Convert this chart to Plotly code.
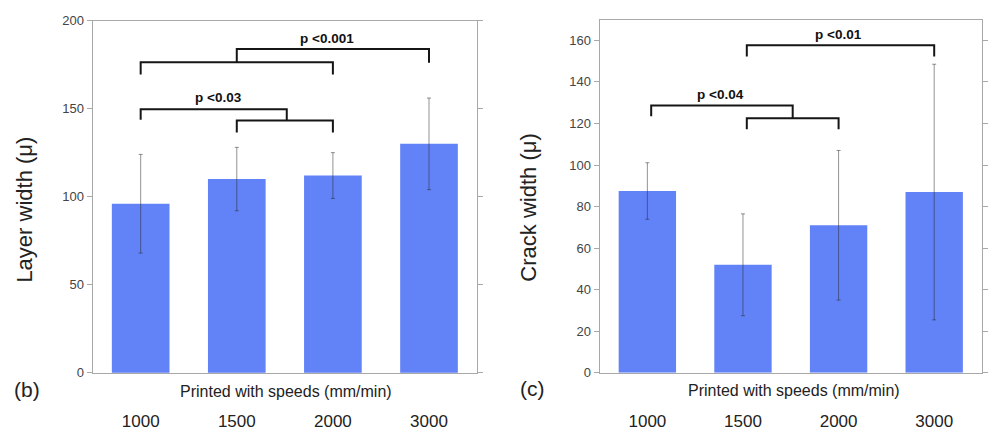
import plotly.graph_objects as go

# Print speeds (mm/min) shared by both panels
speeds = ["1000", "1500", "2000", "3000"]

# Panel (b): layer width, mean and error
layer_mean = [96, 110, 112, 130]
layer_err = [28, 18, 13, 26]

# Panel (c): crack width, mean and error
crack_mean = [87.5, 52, 71, 87]
crack_err = [13.6, 24.5, 36, 61.5]

# Significance brackets: (x_start, x_end, bar height, left leg end, right leg end)
layer_brackets = [
    (0, 2, 176.3, 169.3, 169.3),
    (1, 3, 183.9, 176.3, 176.0),
    (0, 1.52, 149.6, 143.7, 143.2),
    (1, 2, 143.2, 136.4, 136.4),
]
crack_brackets = [
    (1.04, 3, 157.6, 152.2, 152.2),
    (0.04, 1.52, 128.6, 123.5, 122.5),
    (1.04, 2, 122.5, 117.2, 117.2),
]
# p-value labels: (text, x, y)
layer_pvals = [("p <0.001", 1.94, 190), ("p <0.03", 0.81, 156.5)]
crack_pvals = [("p <0.01", 2.0, 163), ("p <0.04", 0.77, 134)]

BAR_COLOR = "#6282f7"
FRAME = "#a8a8a8"
FONT = "Liberation Sans, Arial, sans-serif"

xs = list(range(len(speeds)))

fig = go.Figure()
for mean, err, xa, ya in [
    (layer_mean, layer_err, "x", "y"),
    (crack_mean, crack_err, "x2", "y2"),
]:
    fig.add_trace(go.Bar(
        x=xs, y=mean, xaxis=xa, yaxis=ya,
        marker=dict(color=BAR_COLOR, line=dict(width=0)),
        error_y=dict(type="data", array=err, color="rgba(40,40,40,0.5)",
                     thickness=1, width=2),
        showlegend=False,
    ))

shapes = []
annotations = []
for brackets, pvals, xa, ya in [
    (layer_brackets, layer_pvals, "x", "y"),
    (crack_brackets, crack_pvals, "x2", "y2"),
]:
    for x0, x1, h, l0, l1 in brackets:
        path = f"M {x0},{l0} L {x0},{h} L {x1},{h} L {x1},{l1}"
        shapes.append(dict(type="path", path=path, xref=xa, yref=ya,
                           line=dict(color="#151515", width=2)))
    for txt, px, py in pvals:
        annotations.append(dict(text=f"<b>{txt}</b>", x=px, y=py, xref=xa, yref=ya,
                                showarrow=False,
                                font=dict(family=FONT, size=13.5, color="#111")))

axis_common = dict(showline=True, linecolor=FRAME, linewidth=1,
                   showgrid=False, zeroline=False)

xaxis_common = dict(axis_common, mirror=True, range=[-0.5, 3.5], tickvals=xs,
                    ticktext=speeds, ticks="", ticklabelstandoff=33,
                    tickfont=dict(family=FONT, size=17, color="#222"))
yaxis_common = dict(axis_common, mirror="allticks", ticks="outside", ticklen=5,
                    tickcolor=FRAME,
                    tickfont=dict(family=FONT, size=13, color="#444"))

fig.update_layout(
    width=988, height=433,
    margin=dict(l=0, r=0, t=0, b=0),
    paper_bgcolor="white", plot_bgcolor="white",
    bargap=0.4,
    xaxis=dict(xaxis_common, domain=[93 / 988, 479 / 988], anchor="y"),
    yaxis=dict(yaxis_common, domain=[1 - 379 / 433, 1 - 14 / 433], anchor="x",
               range=[0, 200], tickvals=[0, 50, 100, 150, 200]),
    xaxis2=dict(xaxis_common, domain=[602 / 988, 986 / 988], anchor="y2"),
    yaxis2=dict(yaxis_common, domain=[1 - 379 / 433, 1 - 13 / 433], anchor="x2",
                range=[0, 170], tickvals=[0, 20, 40, 60, 80, 100, 120, 140, 160]),
    shapes=shapes,
)

# Axis titles and panel letters
paper_text = [
    ("Layer width (μ)", 25, 210, 22, -90),
    ("Crack width (μ)", 531, 208, 22, -90),
    ("Printed with speeds (mm/min)", 287, 398, 16, 0),
    ("Printed with speeds (mm/min)", 797, 397, 16, 0),
    ("(b)", 27, 396, 21, 0),
    ("(c)", 535, 395, 21, 0),
]
for txt, px, py, size, angle in paper_text:
    annotations.append(dict(text=txt, x=px / 988, y=1 - py / 433, xref="paper",
                            yref="paper", showarrow=False, textangle=angle,
                            xanchor="center", yanchor="middle",
                            font=dict(family=FONT, size=size, color="#222")))

fig.update_layout(annotations=annotations)
fig.write_html("out.html")
